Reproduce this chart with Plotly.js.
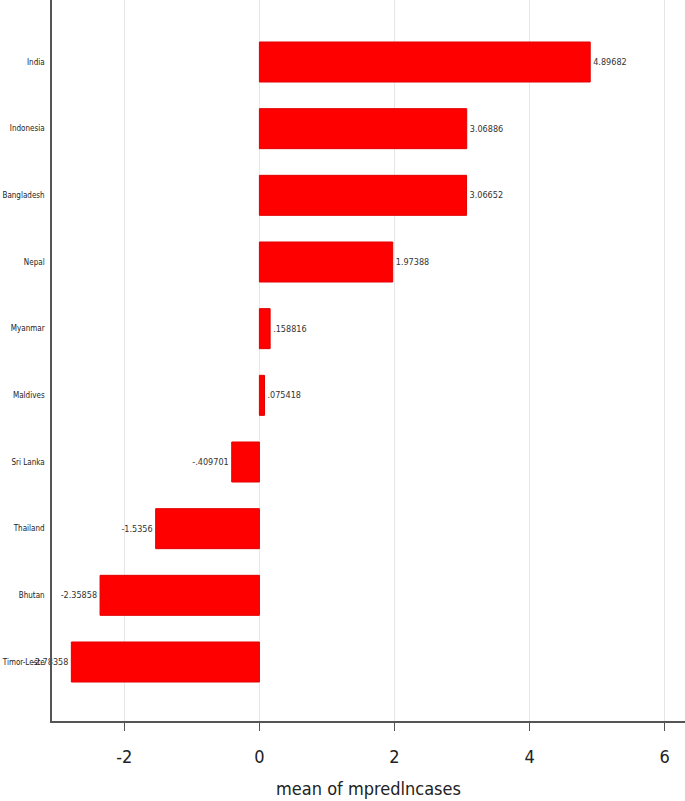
<!DOCTYPE html>
<html>
<head>
<meta charset="utf-8">
<script src="https://cdn.plot.ly/plotly-3.0.1.min.js"></script>
<style>
  body { margin: 0; background: #fff; }
  #plot { width: 685px; height: 801px; }
</style>
</head>
<body>
<div id="plot"></div>
<script>
let countries = ['India', 'Indonesia', 'Bangladesh', 'Nepal', 'Myanmar',
                 'Maldives', 'Sri Lanka', 'Thailand', 'Bhutan', 'Timor-Leste'];
let means = [4.89682, 3.06886, 3.06652, 1.97388, 0.158816,
             0.075418, -0.409701, -1.5356, -2.35858, -2.78358];
let valueLabels = ['4.89682', '3.06886', '3.06652', '1.97388', '.158816',
                   '.075418', '-.409701', '-1.5356', '-2.35858', '-2.78358'];

let narrow = '"DejaVu Sans Condensed", "Liberation Sans", Arial, sans-serif';

let barTrace = {
    x: means,
    y: countries,
    text: valueLabels,
    type: 'bar',
    orientation: 'h',
    width: 0.6,
    textposition: 'outside',
    cliponaxis: false,
    textfont: { family: narrow, size: 9, color: '#333' },
    marker: { color: 'rgb(255,0,0)', line: { color: 'rgb(225,0,0)', width: 1 } },
    hoverinfo: 'x+y'
};

let layout = {
    width: 685,
    height: 801,
    showlegend: false,
    paper_bgcolor: '#fff',
    plot_bgcolor: '#fff',
    margin: { l: 52, r: 0, t: 0, b: 80, pad: 0 },
    font: { family: narrow, color: '#222' },
    xaxis: {
        range: [-3.07, 6.3],
        tickvals: [-2, 0, 2, 4, 6],
        ticktext: ['-2', '0', '2', '4', '6'],
        ticks: 'outside',
        ticklen: 8,
        tickcolor: '#555',
        ticklabelstandoff: 11,
        tickfont: { size: 18, color: '#222' },
        showgrid: true,
        gridcolor: '#e6e6e6',
        zeroline: false,
        showline: true,
        linecolor: '#555',
        linewidth: 1.5,
        title: { text: 'mean of mpredlncases', font: { size: 18, color: '#222' }, standoff: 16 }
    },
    yaxis: {
        type: 'category',
        range: [9.885, -0.93],
        showgrid: false,
        zeroline: false,
        showline: true,
        linecolor: '#555',
        linewidth: 1.5,
        ticks: '',
        ticklabelstandoff: 4,
        tickfont: { size: 8, color: '#222' }
    }
};

Plotly.newPlot('plot', [barTrace], layout, { displayModeBar: false });
</script>
</body>
</html>
